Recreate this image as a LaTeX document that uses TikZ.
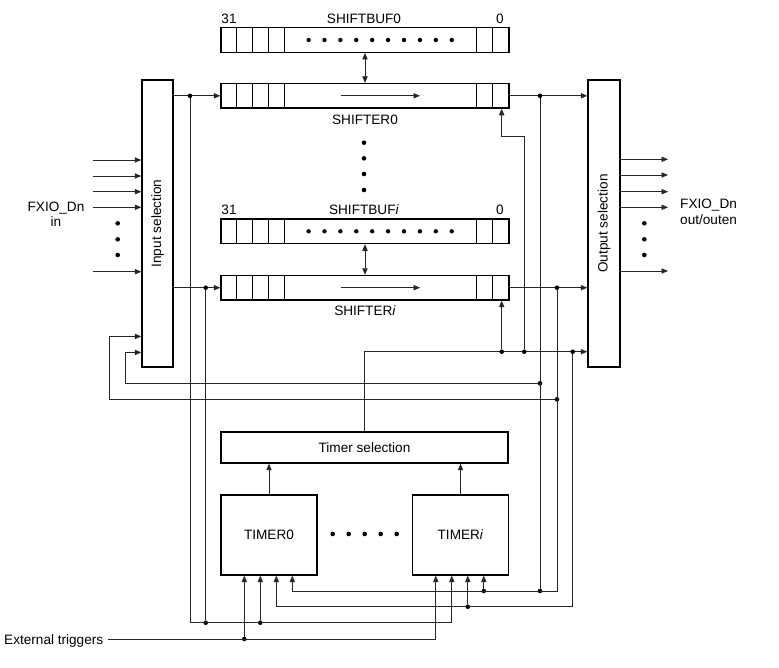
\documentclass[tikz,border=0pt]{standalone}
\usepackage{fontspec}
\setmainfont{Liberation Sans}
\usetikzlibrary{arrows.meta,calc}
\tikzset{
  blk/.style={draw,line width=1.4pt,inner sep=0pt,font=\fontsize{13.6}{15.6}\selectfont},
  wire/.style={line width=0.7pt,draw=black!85},
  arr/.style={wire,-{Triangle[length=6.5pt,width=5.3pt]}},
  darr/.style={wire,{Triangle[length=6.5pt,width=5.3pt]}-{Triangle[length=6.5pt,width=5.3pt]}},
  junc/.style={circle,fill=black,inner sep=0pt,minimum size=4.6pt},
  txt/.style={inner sep=0pt,font=\fontsize{13.6}{15.6}\selectfont},
  regbox/.style={blk,minimum width=288pt,minimum height=24.5pt}
}
% bit cells at both ends of a register
\newcommand{\regcells}[1]{%
  \foreach \dx in {16,32,48,64,256,272}
    \draw[line width=1.2pt] ($(#1.north west)+(\dx,0)$) -- ($(#1.south west)+(\dx,0)$);}

\begin{document}
\begin{tikzpicture}[x=1pt,y=-1pt]
  \useasboundingbox (0,0) rectangle (779,667);
  % selection blocks
  \node[blk,minimum width=31pt,minimum height=287pt] (insel) at (157.5,223.5) {\rotatebox{90}{Input selection}};
  \node[blk,minimum width=32pt,minimum height=287pt] (outsel) at (604,223.5) {\rotatebox{90}{Output selection}};
  \node[blk,minimum width=287pt,minimum height=31pt] (tsel) at (364.5,447.5) {Timer selection};
  \node[blk,minimum width=96pt,minimum height=80pt] (t0) at (269,535) {TIMER0};
  \node[blk,minimum width=96pt,minimum height=80pt] (ti) at (460.5,535) {TIMER\textit{i}};
  % registers
  \node[regbox] (sb0) at (365,40) {};
  \node[regbox] (sh0) at (365,95.8) {};
  \node[regbox] (sbi) at (365,231.3) {};
  \node[regbox] (shi) at (365,287.7) {};
  \regcells{sb0}
  \regcells{sh0}
  \regcells{sbi}
  \regcells{shi}
  \foreach \k in {0,...,9} {
    \fill ($(sb0.west)+(88.3+15.9*\k,0)$) circle (2.2pt);
    \fill ($(sbi.west)+(88.3+15.9*\k,0)$) circle (2.2pt);
  }
  \draw[arr] ($(sh0.center)+(-24,0)$) -- ++(79,0);
  \draw[arr] ($(shi.center)+(-24,0)$) -- ++(79,0);
  \node[txt] (sb0h) at (229,19) {31};
  \node[txt] (sb0n) at (364,19) {SHIFTBUF0};
  \node[txt] (sb0l) at (500,19) {0};
  \node[txt] (sh0n) at (365,120) {SHIFTER0};
  \node[txt] (sbih) at (229,209.5) {31};
  \node[txt] (sbin) at (364,209.5) {SHIFTBUF\textit{i}};
  \node[txt] (sbil) at (500,209.5) {0};
  \node[txt] (shin) at (365,310.5) {SHIFTER\textit{i}};
  \draw[darr] (sb0.south) -- (sh0.north);
  \draw[darr] (sbi.south) -- (shi.north);
  \foreach \yy in {142.7,158.3,174,190}
    \fill (364,\yy) circle (2.3pt);
  % pins in and out
  \node[txt,align=center,anchor=north] (pinin) at (56,201.5) {FXIO\_Dn\\in};
  \node[txt,align=left,anchor=north west] (pinout) at (680,199) {FXIO\_Dn\\out/outen};
  \foreach \yy [count=\n] in {160,176,191.7,207.3,271.7} {
    \coordinate (pin\n) at (93,\yy);
    \draw[arr] (pin\n) -- (pin\n -| insel.west);
  }
  \foreach \yy [count=\n] in {159.3,175,191.7,207.3,271} {
    \coordinate (pout\n) at (668,\yy);
    \draw[arr] (pout\n -| outsel.east) -- (pout\n);
  }
  \foreach \yy in {223.3,239.3,255} {
    \fill (117.7,\yy) circle (2.3pt);
    \fill (644.3,\yy) circle (2.3pt);
  }
  % data path
  \draw[arr] (insel.east |- sh0.west) -- (sh0.west);
  \draw[arr] (insel.east |- shi.west) -- (shi.west);
  \draw[arr] (sh0.east) -- (outsel.west |- sh0.east);
  \draw[arr] (shi.east) -- (outsel.west |- shi.east);
  % timers
  \draw[arr] (t0.north) -- (tsel.south -| t0.north);
  \draw[arr] (ti.north) -- (tsel.south -| ti.north);
  \foreach \x in {332.7,348.7,364.7,380.7,396.7}
    \fill (\x,534) circle (2.3pt);
  \foreach \k/\dx in {a/24,b/40,c/56,d/72} {
    \coordinate (t0\k) at ($(t0.south west)+(\dx,0)$);
    \coordinate (ti\k) at ($(ti.south west)+(\dx,0)$);
  }
  % rows and taps
  \coordinate (busA) at (0,591);
  \coordinate (busB) at (0,606.7);
  \coordinate (busC) at (0,622.7);
  \coordinate (busD) at (0,639);
  \coordinate (fbA) at (0,383.3);
  \coordinate (fbB) at (0,399.3);
  \coordinate (tsrow) at (0,351.7);
  \node[junc] (ja) at (190,95.8) {};
  \node[junc] (jb) at (205.7,287.7) {};
  \node[junc] (jc) at (540,95.8) {};
  \node[junc] (jd) at (557,287.7) {};
  \coordinate (sh0cell) at ($(sh0.south east)+(-8,0)$);
  \coordinate (shicell) at ($(shi.south east)+(-8,0)$);
  % timer selection to outputs and shifters
  \draw[arr] (tsel.north) |- (tsrow -| outsel.west);
  \node[junc] (je) at (tsrow -| shicell) {};
  \node[junc] (jf) at (524.3,351.7) {};
  \node[junc] (jg) at (572.7,351.7) {};
  \draw[arr] (je) -- (shicell);
  \draw[arr] (jf) |- ($(sh0cell)+(0,27.7)$) -- (sh0cell);
  % feedback into input selection
  \coordinate (fin1) at ($(insel.south west)+(0,-15.3)$);
  \coordinate (fin2) at ($(insel.south west)+(0,-31.3)$);
  \node[junc] (jh) at (fbA -| jc) {};
  \node[junc] (ji) at (fbB -| jd) {};
  \draw[arr] (jh) -| ($(fin1)+(-16.3,0)$) -- (fin1);
  \draw[arr] (ji) -| ($(fin2)+(-32,0)$) -- (fin2);
  % trigger buses to timers
  \node[junc] (ka) at (busA -| jc) {};
  \node[junc] (kb) at (busA -| tid) {};
  \node[junc] (kc) at (busB -| tic) {};
  \node[junc] (kd) at (busC -| jb) {};
  \node[junc] (ke) at (busC -| t0b) {};
  \node[junc] (kf) at (busD -| t0a) {};
  \draw[wire] (jc) -- (ka);
  \draw[wire] (jb) -- (kd);
  \draw[arr] (jd) |- (busA -| t0d) -- (t0d);
  \draw[arr] (kb) -- (tid);
  \draw[arr] (jg) |- (busB -| t0c) -- (t0c);
  \draw[arr] (kc) -- (tic);
  \draw[arr] (ja) |- (busC -| tib) -- (tib);
  \draw[arr] (ke) -- (t0b);
  \node[txt,anchor=base west] (ext) at (4,644) {External triggers};
  \draw[arr] ([xshift=5pt]ext.east |- busD) -| (tia);
  \draw[arr] (kf) -- (t0a);
\end{tikzpicture}
\end{document}
